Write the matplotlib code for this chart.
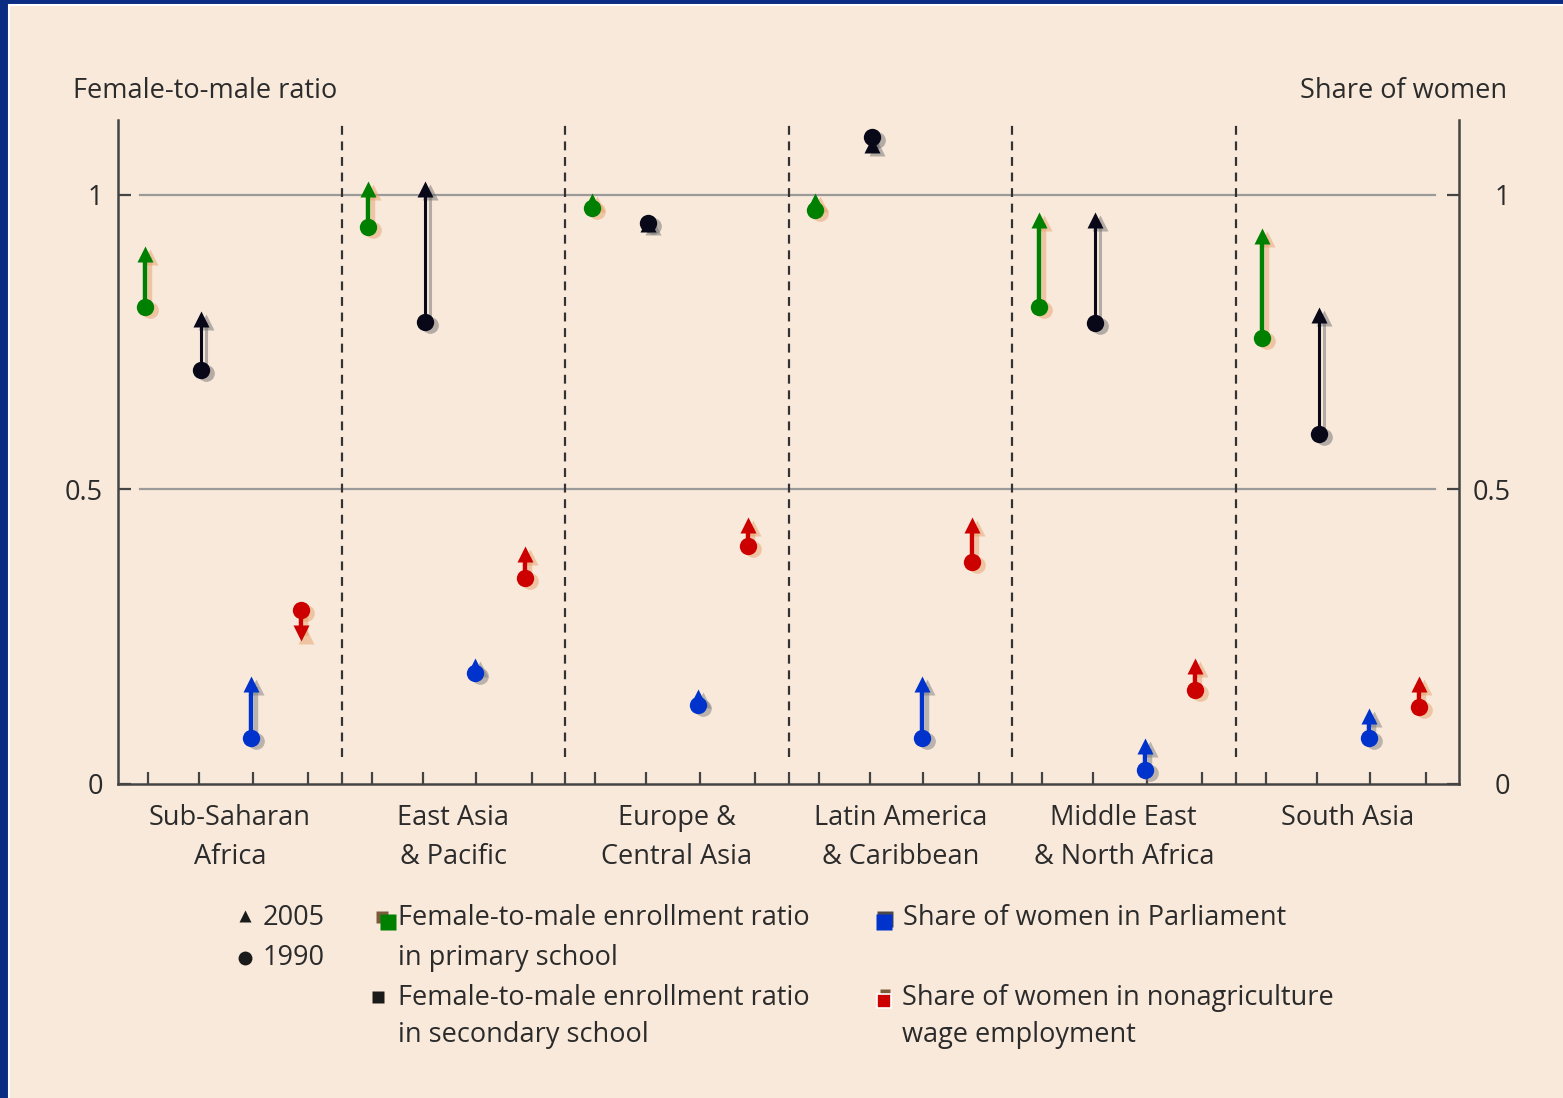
#!/usr/bin/env python3
"""
Gender parity indicators by region, 1990 vs 2005
Arrows run from the 1990 value (circle) to the 2005 value (triangle)
"""

import matplotlib
matplotlib.use('Agg')
import matplotlib.pyplot as plt
import matplotlib.patches as patches
import matplotlib.transforms as mtransforms

plt.rcParams['font.family'] = ['Open Sans', 'DejaVu Sans']

# --- data -------------------------------------------------------------
regions = ['Sub-Saharan\nAfrica', 'East Asia\n& Pacific', 'Europe &\nCentral Asia',
           'Latin America\n& Caribbean', 'Middle East\n& North Africa', 'South Asia']

primary_1990 = [0.81, 0.946, 0.977, 0.975, 0.81, 0.757]
primary_2005 = [0.90, 1.01, 0.99, 0.99, 0.957, 0.93]
secondary_1990 = [0.703, 0.784, 0.952, 1.098, 0.783, 0.594]
secondary_2005 = [0.79, 1.01, 0.95, 1.085, 0.957, 0.796]
parliament_1990 = [0.078, 0.188, 0.134, 0.078, 0.024, 0.078]
parliament_2005 = [0.17, 0.20, 0.148, 0.17, 0.065, 0.115]
wage_1990 = [0.295, 0.35, 0.404, 0.377, 0.16, 0.131]
wage_2005 = [0.256, 0.39, 0.44, 0.44, 0.20, 0.17]

yticks = [0, 0.5, 1]
ytick_labels = ['0', '0.5', '1']

# --- style ------------------------------------------------------------
PEACH = '#F9E9DB'
NAVY = '#0A2C82'
TEXT = '#2B2B2B'
AXIS = '#444444'
FS = 19.5

series = [
    # 1990, 2005, colour, shadow colour, shaft width
    (primary_1990, primary_2005, '#008000', '#E6A06A', 3.2),
    (secondary_1990, secondary_2005, '#080818', '#6E6E6E', 2.2),
    (parliament_1990, parliament_2005, '#0033CC', '#7C7C7C', 3.2),
    (wage_1990, wage_2005, '#CC0000', '#E6A06A', 3.2),
]

GROUP = 4.16                          # width of one region block in x units
X_OFFSETS = [0.5, 1.55, 2.48, 3.41]   # series slots inside a block
TICK_OFFSETS = [0.56, 1.51, 2.51, 3.54]


def create_chart():
    fig = plt.figure(figsize=(15.63, 10.98), dpi=100)
    fig.patch.set_facecolor(NAVY)

    # background panel + free text layer, in pixel coordinates
    bg = fig.add_axes([0, 0, 1, 1], zorder=0)
    bg.set_xlim(0, 1563)
    bg.set_ylim(1098, 0)
    bg.axis('off')
    bg.add_patch(patches.Rectangle((9, 5), 1580, 1120, facecolor=PEACH,
                                   edgecolor='white', linewidth=1.5))

    ax = fig.add_axes([118 / 1563, 1 - 784 / 1098, 1341 / 1563, 664 / 1098], zorder=1)
    ax.patch.set_alpha(0)
    ax.set_xlim(0, 6 * GROUP)
    ax.set_ylim(0, 1.127)

    shadow = mtransforms.offset_copy(ax.transData, fig=fig, x=5, y=-3, units='dots')

    for j, (y0s, y1s, color, scolor, lw) in enumerate(series):
        for i in range(len(regions)):
            x = i * GROUP + X_OFFSETS[j]
            y0, y1 = y0s[i], y1s[i]
            tri = 'v' if y1 < y0 - 0.02 else '^'
            # soft drop shadow
            ax.plot([x, x], [y0, y1], color=scolor, lw=lw, alpha=0.5,
                    transform=shadow, zorder=2, solid_capstyle='butt')
            ax.plot(x, y1, marker='^', ms=12, color=scolor, mec='none', alpha=0.5,
                    transform=shadow, zorder=2)
            ax.plot(x, y0, marker='o', ms=12, color=scolor, mec='none', alpha=0.5,
                    transform=shadow, zorder=2)
            # arrow
            ax.plot([x, x], [y0, y1], color=color, lw=lw, zorder=3, solid_capstyle='butt')
            ax.plot(x, y1, marker=tri, ms=12, color=color, mec='none', zorder=4)
            ax.plot(x, y0, marker='o', ms=12.5, color=color, mec='none', zorder=5)

    seps = [i * GROUP for i in range(1, len(regions))]
    slot_ticks = [i * GROUP + t for i in range(len(regions)) for t in TICK_OFFSETS]

    # gridlines and region separators
    for yv in [0.5, 1]:
        ax.axhline(yv, xmin=0.0164, xmax=0.982, color='#9A9A9A', lw=1.6, zorder=1)
    for s in seps:
        ax.axvline(s, ymin=0.04, ymax=1, color='#333333', lw=1.6,
                   ls=(0, (4, 3)), zorder=1)

    # spines and ticks
    ax.spines['top'].set_visible(False)
    for side in ['left', 'right', 'bottom']:
        ax.spines[side].set_color(AXIS)
        ax.spines[side].set_linewidth(1.8)

    ax.set_xticks(sorted(slot_ticks + seps))
    ax.set_xticklabels([])
    ax.tick_params(axis='x', direction='in', length=9, width=1.6, color=AXIS)

    ax.set_yticks(yticks)
    ax.set_yticklabels(ytick_labels)
    ax.tick_params(axis='y', direction='in', length=9, width=1.6, color=AXIS,
                   left=True, right=True, labelleft=True, labelright=True,
                   labelsize=FS, labelcolor=TEXT, pad=11)
    # right labels are right-aligned about 50px right of the spine
    offset = mtransforms.ScaledTranslation(26 / 72, 0, fig.dpi_scale_trans)
    for t in ax.yaxis.get_major_ticks():
        t.label2.set_horizontalalignment('right')
        t.label2.set_transform(t.label2.get_transform() + offset)

    # region labels, one text per line
    xlab = mtransforms.blended_transform_factory(ax.transData, ax.transAxes)
    line_y = [-34 / 664, -73 / 664]
    for i, name in enumerate(regions):
        for k, line in enumerate(name.split('\n')):
            ax.text((i + 0.5) * GROUP, line_y[k], line, transform=xlab,
                    ha='center', va='center', fontsize=FS, color=TEXT)

    # axis titles
    bg.text(73, 91, 'Female-to-male ratio', fontsize=FS, color=TEXT, va='center', ha='left')
    bg.text(1507, 91, 'Share of women', fontsize=FS, color=TEXT, va='center', ha='right')

    # legend
    bg.plot(245, 916, marker='^', ms=8, color='#1A1A1A', mec='none')
    bg.plot(245, 958, marker='o', ms=10, color='#1A1A1A', mec='none')
    bg.text(263, 918, '2005', fontsize=FS, color=TEXT, va='center')
    bg.text(263, 958, '1990', fontsize=FS, color=TEXT, va='center')

    bg.plot(382, 917, marker='s', ms=8, color='#7A5A3A', mec='none')
    bg.plot(388, 922, marker='s', ms=11, color='#008000', mec='none')
    bg.text(398, 918, 'Female-to-male enrollment ratio', fontsize=FS, color=TEXT, va='center')
    bg.text(398, 958, 'in primary school', fontsize=FS, color=TEXT, va='center')

    bg.plot(378, 997, marker='s', ms=9, color='#1A1A1A', mec='none')
    bg.text(398, 998, 'Female-to-male enrollment ratio', fontsize=FS, color=TEXT, va='center')
    bg.text(398, 1035, 'in secondary school', fontsize=FS, color=TEXT, va='center')

    bg.plot(885, 919, marker='s', ms=11, color='#4A4A4A', mec='none')
    bg.plot(884, 922, marker='s', ms=11, color='#0033CC', mec='none')
    bg.text(903, 918, 'Share of women in Parliament', fontsize=FS, color=TEXT, va='center')

    bg.plot(885, 994, marker='s', ms=7, color='#7A5A3A', mec='none')
    bg.plot(884, 1001, marker='s', ms=10, color='#CC0000', mec='white', mew=1.2)
    bg.text(902, 998, 'Share of women in nonagriculture', fontsize=FS, color=TEXT, va='center')
    bg.text(902, 1035, 'wage employment', fontsize=FS, color=TEXT, va='center')

    fig.savefig('out.png', dpi=100, facecolor=fig.get_facecolor())
    plt.close(fig)


if __name__ == '__main__':
    create_chart()
